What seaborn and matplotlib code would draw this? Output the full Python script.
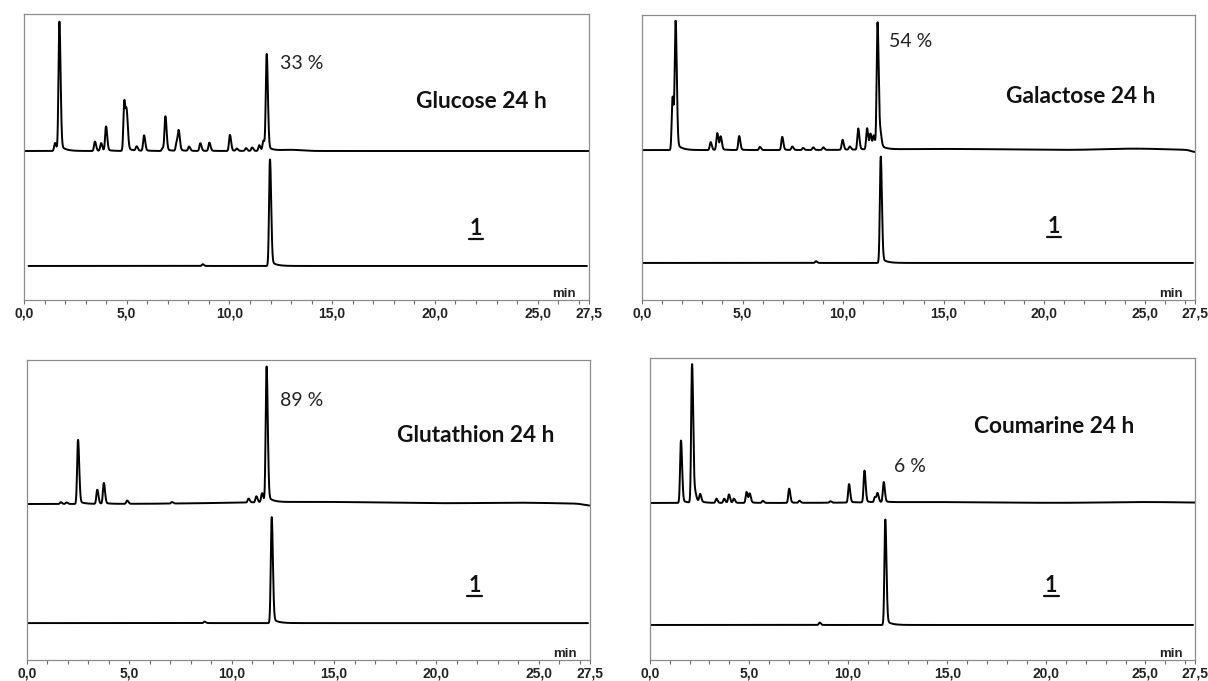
import numpy as np
import pandas as pd
import matplotlib
matplotlib.use("Agg")
import matplotlib.pyplot as plt
import seaborn as sns
from matplotlib.lines import Line2D
from matplotlib.transforms import IdentityTransform

# ---------------- data ----------------
# retention times (min) and peak heights (% of panel height)
glucose_rt = [1.51, 1.72, 3.45, 3.75, 3.99, 4.88, 5.00, 5.48, 5.84, 6.75, 6.88, 7.43, 7.53,
              8.03, 8.58, 9.02, 10.02, 10.35, 10.80, 11.10, 11.45, 11.65, 11.81]
glucose_h = [2.8, 45.0, 3.3, 2.7, 8.5, 17.5, 12.0, 1.5, 5.4, 1.0, 12.0, 3.0, 6.5,
             1.5, 2.7, 2.9, 5.6, 0.8, 1.0, 1.2, 2.0, 3.5, 33.6]
glucose_drift = [(13.0, 0.4, 0.5)]

galactose_rt = [1.52, 1.67, 3.41, 3.74, 3.91, 4.83, 5.86, 6.97, 7.47, 8.01, 8.51, 9.01,
                9.97, 10.33, 10.75, 11.19, 11.36, 11.52, 11.71, 11.86]
galactose_h = [18.6, 44.2, 2.8, 5.9, 4.6, 4.9, 1.1, 4.6, 1.2, 0.7, 0.9, 0.9,
               3.5, 1.1, 7.4, 7.4, 5.3, 4.6, 44.2, 4.2]
galactose_drift = [(15.0, 0.4, 3.0), (24.5, 0.5, 1.5), (27.5, -0.7, 0.2)]

glutathion_rt = [1.65, 1.93, 2.49, 3.43, 3.75, 4.89, 7.08, 10.82, 11.20, 11.48, 11.70]
glutathion_h = [0.6, 0.5, 21.3, 4.7, 6.9, 1.1, 0.5, 1.3, 2.0, 3.0, 45.0]
glutathion_drift = [(14.0, 0.7, 4.0), (24.0, 0.4, 2.0), (27.5, -0.6, 0.3)]

coumarine_rt = [1.56, 2.12, 2.28, 2.53, 3.35, 3.74, 3.98, 4.23, 4.87, 5.03, 5.69, 7.02, 7.54,
                9.10, 10.04, 10.82, 11.35, 11.48, 11.79]
coumarine_h = [20.6, 45.7, 2.2, 2.5, 1.4, 1.4, 2.8, 1.4, 3.6, 3.0, 0.7, 4.7, 0.7,
               0.5, 6.1, 10.5, 1.7, 2.9, 6.6]
coumarine_drift = [(14.0, 0.3, 3.0), (25.0, 0.3, 2.0)]

# reference compound 1 (lower traces)
ref_rt = [[8.70, 11.97], [8.65, 11.87], [8.67, 11.95], [8.56, 11.87]]
ref_h = [[0.6, 37.1], [0.6, 37.2], [0.5, 35.2], [0.8, 34.8]]

sample_names = ["Glucose 24 h", "Galactose 24 h", "Glutathion 24 h", "Coumarine 24 h"]
yields = ["33 %", "54 %", "89 %", "6 %"]
compound_label = "1"

major_ticks = [0.0, 5.0, 10.0, 15.0, 20.0, 25.0, 27.5]
minor_ticks = [1, 2, 3, 4, 6, 7, 8, 9, 11, 12, 13, 14, 16, 17, 18, 19, 21, 22, 23, 24, 26, 27]
tick_labels = ["0,0", "5,0", "10,0", "15,0", "20,0", "25,0", "27,5"]

# ---------------- style / layout ----------------
sns.set_theme(style="white")
plt.rcParams["font.family"] = ["Lato", "DejaVu Sans"]

SIG_L, SIG_R, TAIL, TAU = 0.042, 0.058, 0.05, 0.25


def chromatogram(t, rts, hs, drift=()):
    y = np.zeros_like(t)
    for r, h in zip(rts, hs):
        d = t - r
        s = np.where(d < 0, SIG_L, SIG_R)
        y += h * np.exp(-0.5 * (d / s) ** 2)
        dp = np.clip(d, 0, None)
        y += h * TAIL * np.where(d > 0, (1 - np.exp(-dp / 0.03)) * np.exp(-dp / TAU), 0.0)
    for c, h, w in drift:
        y += h * np.exp(-0.5 * ((t - c) / w) ** 2)
    return y


W, H = 1208, 681
fig = plt.figure(figsize=(W / 100, H / 100), dpi=100)
fig.patch.set_facecolor("white")

# frame rectangles in pixels: (left, top, right, bottom)
frames = [(24, 14, 589, 300), (642, 15, 1195, 300), (27, 360, 590, 660), (650, 358, 1195, 660)]
upper_base = [52.1, 52.6, 52.0, 52.0]
lower_base = [11.9, 13.0, 12.3, 11.6]
lower_start = [0.22, 0.0, 0.05, 0.0]

samples = [(glucose_rt, glucose_h, glucose_drift),
           (galactose_rt, galactose_h, galactose_drift),
           (glutathion_rt, glutathion_h, glutathion_drift),
           (coumarine_rt, coumarine_h, coumarine_drift)]

# text positions (min, % height), baseline-anchored
name_pos = [(19.1, 67.0), (18.1, 69.2), (18.07, 72.8), (16.33, 75.3)]
yield_pos = [(12.46, 80.7), (12.27, 88.9), (12.38, 84.7), (12.32, 62.4)]
one_pos = [(22.0, 22.7), (20.5, 23.5), (21.87, 22.8), (20.25, 22.6)]

t_full = np.linspace(0, 27.5, 5501)
one_texts = []
for i, (l, tp, r, b) in enumerate(frames):
    ax = fig.add_axes([l / W, 1 - b / H, (r - l) / W, (b - tp) / H])
    rts, hs, dr = samples[i]
    up = pd.DataFrame({"time": t_full, "signal": upper_base[i] + chromatogram(t_full, rts, hs, dr)})
    t_low = np.linspace(lower_start[i], 27.4, 5501)
    lo = pd.DataFrame({"time": t_low, "signal": lower_base[i] + chromatogram(t_low, ref_rt[i], ref_h[i])})
    sns.lineplot(data=up, x="time", y="signal", ax=ax, color="black", linewidth=1.4,
                 estimator=None, sort=False)
    sns.lineplot(data=lo, x="time", y="signal", ax=ax, color="black", linewidth=1.4,
                 estimator=None, sort=False)
    ax.set_xlim(0, 27.5)
    ax.set_ylim(0, 100)
    ax.set_xlabel("")
    ax.set_ylabel("")
    ax.set_yticks([])
    ax.set_xticks(major_ticks, labels=tick_labels, fontfamily="Liberation Sans",
                  fontweight="bold", fontsize=10)
    ax.set_xticks(minor_ticks, minor=True)
    ax.tick_params(axis="x", which="both", bottom=True, direction="out", length=3,
                   width=0.8, color="#6e6e6e", pad=2, labelcolor="#222222")
    for sp in ax.spines.values():
        sp.set_color("#8c8c8c")
        sp.set_linewidth(0.9)
    ax.set_facecolor("white")

    ax.text(0.956, 0.011, "min", transform=ax.transAxes, ha="center", va="baseline",
            fontfamily="Liberation Sans", fontweight="bold", fontsize=9.5, color="#222222")
    ax.text(*name_pos[i], sample_names[i], ha="left", va="baseline", fontsize=16.3,
            fontweight="bold", color="#111111")
    ax.text(*yield_pos[i], yields[i], ha="left", va="baseline", fontsize=14,
            color="#222222")
    one_texts.append((ax, ax.text(*one_pos[i], compound_label, ha="center", va="baseline",
                                  fontsize=15.5, fontweight="bold", color="#111111")))

fig.canvas.draw()
renderer = fig.canvas.get_renderer()
for ax, txt in one_texts:
    bb = txt.get_window_extent(renderer)
    xb, yb = ax.transData.transform(txt.get_position())
    yline = yb - 4
    fig.add_artist(Line2D([bb.x0 - 1, bb.x1 + 1], [yline, yline], transform=IdentityTransform(),
                          color="#111111", linewidth=1.6))

fig.savefig("out.png", dpi=100, facecolor="white")
